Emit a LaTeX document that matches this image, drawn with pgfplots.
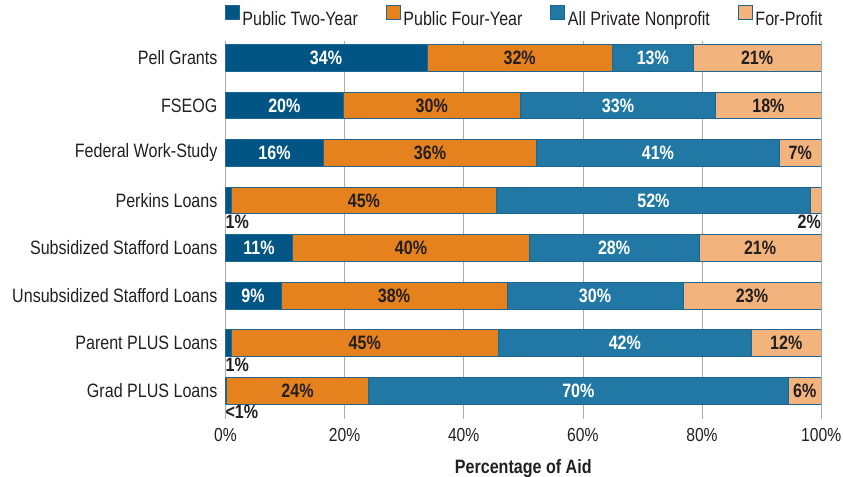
\documentclass[border=0pt]{standalone}
\usepackage{pgfplots}
\pgfplotsset{compat=1.18}
\usepackage{fontspec}
\setmainfont{Liberation Sans}[FakeStretch=0.83]
\definecolor{ptwo}{HTML}{005584}
\definecolor{pfour}{HTML}{E6821E}
\definecolor{priv}{HTML}{2278A5}
\definecolor{forp}{HTML}{F2B47C}
\definecolor{edge}{HTML}{1F6690}
\definecolor{txt}{HTML}{231F20}
\newcommand{\fs}{\fontsize{19.5}{21}\selectfont}
\newcommand{\fst}{\fontsize{19}{21}\selectfont}
\begin{document}
\begin{tikzpicture}
\useasboundingbox (-227pt,-58pt) rectangle (622pt,422pt);
\pgfplotsset{common/.style={
  scale only axis, width=600pt, height=381pt,
  xmin=0, xmax=100, ymin=-0.36, ymax=7.6, y dir=reverse}}
\begin{axis}[common,
  xbar stacked, bar width=0.56,
  axis line style={draw=none},
  xmajorgrids, grid style={draw=gray!65, line width=0.7pt},
  major tick length=0pt,
  xtick={0,20,40,60,80,100},
  xticklabels={0\%,20\%,40\%,60\%,80\%,100\%},
  ytick={0,1,2,3,4,5,6,7},
  yticklabels={Pell Grants,FSEOG,Federal Work-Study,Perkins Loans,Subsidized Stafford Loans,Unsubsidized Stafford Loans,Parent PLUS Loans,Grad PLUS Loans},
  tick label style={font=\fs, text=txt},
  xticklabel style={yshift=-6pt, font=\fst},
  yticklabel style={xshift=-4.5pt},
  xlabel={\textbf{Percentage of Aid}},
  xlabel style={font=\fs, text=txt, yshift=-11pt},
  legend style={at={(0.503,1.035)}, anchor=south, draw=none, legend columns=4,
    font=\fs, text=txt, inner sep=0pt,
    nodes={inner xsep=3pt, inner ysep=0pt},
    /tikz/every even column/.append style={column sep=25pt}},
  legend image code/.code={\draw[#1, draw=edge, line width=0.8pt] (0pt,0pt) rectangle (14pt,14pt);},
  every axis plot/.append style={draw=edge, line width=0.5pt},
]
\addplot[fill=ptwo] coordinates {(33.8,0) (19.8,1) (16.5,2) (1,3) (11.3,4) (9.3,5) (1,6) (0.2,7)};
\addplot[fill=pfour] coordinates {(31.2,0) (29.7,1) (35.7,2) (44.5,3) (39.7,4) (38,5) (44.8,6) (23.8,7)};
\addplot[fill=priv] coordinates {(13.5,0) (32.8,1) (40.8,2) (52.7,3) (28.5,4) (29.5,5) (42.5,6) (70.5,7)};
\addplot[fill=forp] coordinates {(21.5,0) (17.7,1) (7,2) (1.8,3) (20.5,4) (23.2,5) (11.7,6) (5.5,7)};
\legend{Public Two-Year,Public Four-Year,All Private Nonprofit,For-Profit}
\end{axis}
\begin{axis}[common, hide axis,
  point meta=explicit symbolic,
  nodes near coords={\pgfplotspointmeta},
  every node near coord/.append style={anchor=center, font=\bfseries\fs},
]
\addplot[draw=none, mark=none, only marks,
  every node near coord/.append style={text=white}] table[x=x, y=y, meta=v] {
x y v
16.9 0 34\%
71.75 0 13\%
9.9 1 20\%
65.9 1 33\%
8.25 2 16\%
72.6 2 41\%
71.85 3 52\%
5.65 4 11\%
65.25 4 28\%
4.65 5 9\%
62.05 5 30\%
67.05 6 42\%
59.25 7 70\%
};
\addplot[draw=none, mark=none, only marks,
  every node near coord/.append style={text=txt}] table[x=x, y=y, meta=v] {
x y v
49.4 0 32\%
89.25 0 21\%
34.65 1 30\%
91.15 1 18\%
34.35 2 36\%
96.5 2 7\%
23.25 3 45\%
31.15 4 40\%
89.75 4 21\%
28.3 5 38\%
88.4 5 23\%
23.4 6 45\%
94.15 6 12\%
12.1 7 24\%
97.25 7 6\%
};
\addplot[draw=none, mark=none, only marks,
  every node near coord/.append style={text=txt, anchor=north west, inner sep=0pt}] table[x=x, y=y, meta=v] {
x y v
0 3.31 1\%
0 6.31 1\%
0 7.31 <1\%
};
\addplot[draw=none, mark=none, only marks,
  every node near coord/.append style={text=txt, anchor=north east, inner sep=0pt}] table[x=x, y=y, meta=v] {
x y v
100 3.31 2\%
};
\end{axis}
\end{tikzpicture}
\end{document}
